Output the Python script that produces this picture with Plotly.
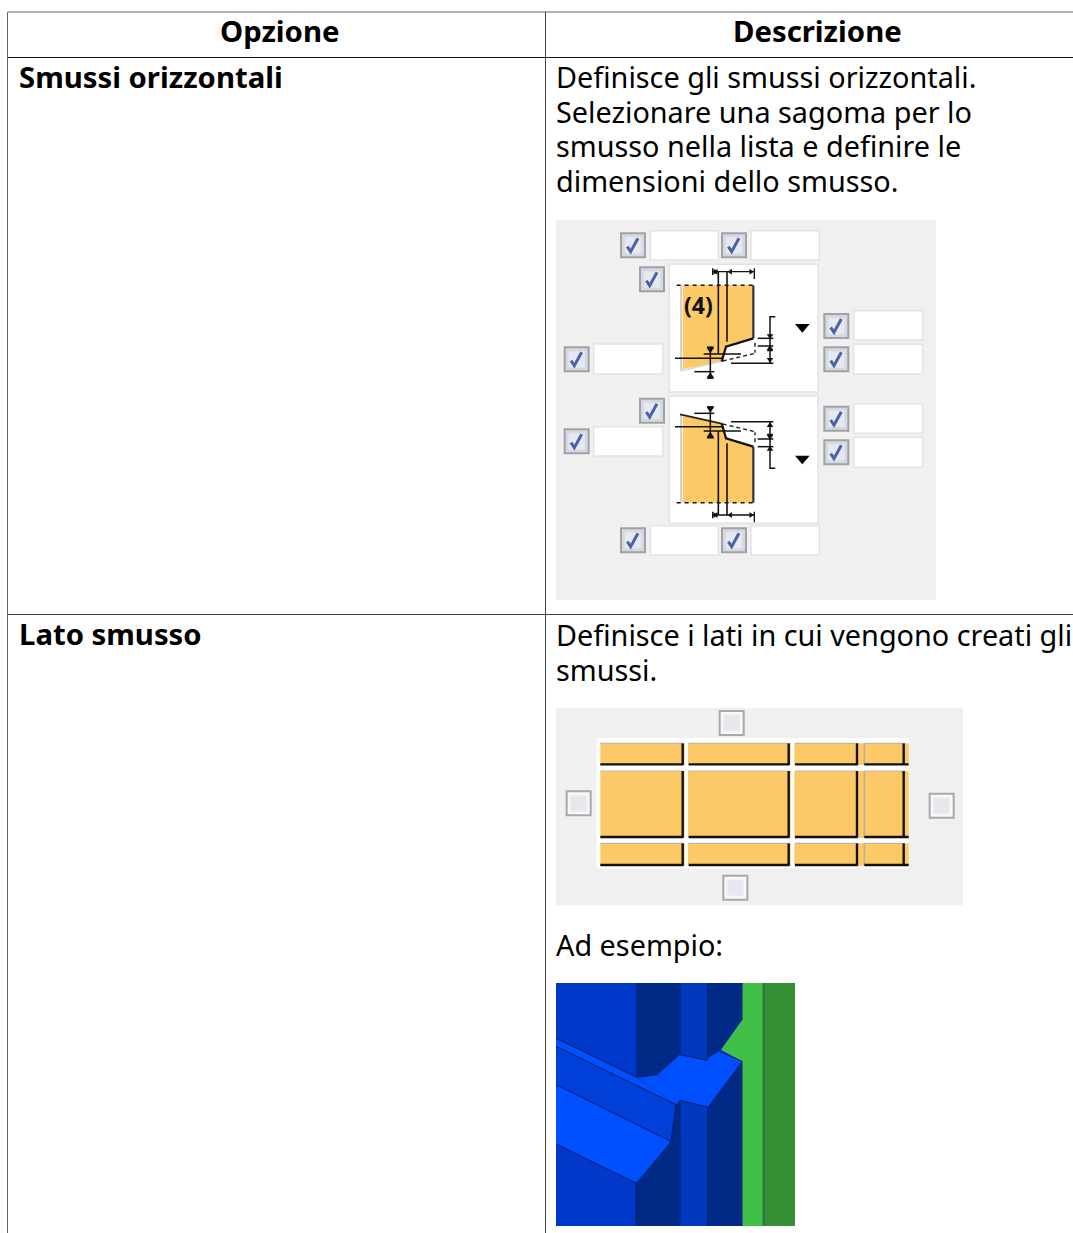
import plotly.graph_objects as go

# ---- text content ----
header_labels = ["Opzione", "Descrizione"]
option_labels = ["Smussi orizzontali", "Lato smusso"]
desc_lines_1 = ["Definisce gli smussi orizzontali.", "Selezionare una sagoma per lo",
                "smusso nella lista e definire le", "dimensioni dello smusso."]
desc_lines_2 = ["Definisce i lati in cui vengono creati gli", "smussi."]
example_label = "Ad esempio:"
badge_label = "(4)"

# ---- diagram geometry, in the crop units of each picture (3 units per pixel) ----
checked_boxes = [(231,76),(534,76),(288,178),(62,418),(841,318),(841,418),
                 (288,572),(62,664),(841,596),(841,697),(231,961),(534,961)]
input_fields = [(283,32,487,120),(585,32,790,120),(113,372,320,462),(893,272,1100,360),
                (893,373,1100,462),(113,620,320,708),(893,552,1100,640),(893,652,1100,742),
                (283,917,487,1005),(585,917,790,1005)]
white_panels = [(340,133,786,516),(340,528,786,910)]
unchecked_boxes = [(527,54),(68,295),(1157,302),(538,548)]
grid_rows = [(115,180),(198,398),(415,482)]
grid_cols = [(133,382),(398,700),(717,905),(925,1040)]

ORANGE = "#fdc966"
NAVY, MID, BRIGHT, BASE = "#002a85", "#0038c0", "#0050ff", "#0039c9"
model_polys = [
    (BASE, [(0,0),(717,0),(717,729),(0,729)]),
    (NAVY, [(243,0),(372,0),(372,215),(305,275),(243,283)]),
    (MID, [(372,0),(455,0),(455,232),(372,215)]),
    (NAVY, [(455,0),(558,0),(558,112),(495,200),(455,232)]),
    ("#40c048", [(558,0),(622,0),(622,729),(558,729)]),
    ("#40c048", [(558,112),(495,200),(558,235)]),
    ("#359035", [(625,0),(717,0),(717,729),(625,729)]),
    (BRIGHT, [(243,283),(305,275),(372,215),(445,232),(490,205),(558,235),(455,372),(372,352),(360,365)]),
    (BRIGHT, [(0,168),(243,285),(360,365),(0,190)]),
    ("#0040d8", [(0,190),(360,365),(345,475),(0,305)]),
    (BRIGHT, [(0,305),(345,475),(240,600),(0,483)]),
    (NAVY, [(240,600),(345,475),(360,365),(372,352),(372,729),(240,729)]),
    (MID, [(372,352),(455,372),(455,729),(372,729)]),
    (NAVY, [(455,372),(558,235),(558,729),(455,729)]),
]
model_lines = [
    [(0,165),(243,283)], [(0,190),(360,365)], [(0,305),(345,475)], [(0,483),(240,600)],
    [(243,0),(243,283)], [(372,0),(372,215)], [(455,0),(455,232)], [(240,600),(240,729)],
    [(372,352),(372,729)], [(455,372),(455,729)], [(558,0),(558,112)], [(558,235),(558,729)],
    [(360,365),(345,475)], [(243,283),(305,275)], [(372,215),(455,232)], [(372,352),(455,372)],
    [(490,205),(558,235)],
]

# ---- page mapping ----
shapes, annots = [], []
def add_rect(x0, y0, x1, y1, fill, line=None, w=1):
    shapes.append(dict(type="rect", x0=x0, y0=y0, x1=x1, y1=y1, fillcolor=fill, layer="above",
                       line=dict(color=line or fill, width=w if line else 0)))
def add_line(pts, color="#000", w=1, dash="solid"):
    d = "M" + " L".join(f"{x:.2f},{y:.2f}" for x, y in pts)
    shapes.append(dict(type="path", path=d, layer="above", line=dict(color=color, width=w, dash=dash)))
def add_poly(pts, fill):
    d = "M" + " L".join(f"{x:.2f},{y:.2f}" for x, y in pts) + " Z"
    shapes.append(dict(type="path", path=d, fillcolor=fill, layer="above", line=dict(width=0)))
def add_text(x, y, text, bold=False, anchor="left", size=28.8, color="#000"):
    annots.append(dict(x=x, y=y, text=f"<b>{text}</b>" if bold else text, showarrow=False,
                       xanchor=anchor, yanchor="middle", xref="x", yref="y", borderpad=0,
                       font=dict(family="Noto Sans", size=size, color=color)))

# ---- table rules ----
for pts, col in [([(7.5,12),(1073,12)],"#666"), ([(7.5,57.5),(1073,57.5)],"#111"),
                 ([(7.5,614.5),(1073,614.5)],"#444"), ([(7.5,12),(7.5,1233)],"#666"),
                 ([(545.5,12),(545.5,1233)],"#444")]:
    add_line(pts, col, 1)

FB, FS = 29.3, 28.8
add_text(279, 31, header_labels[0], True, "center", FB)
add_text(817, 31, header_labels[1], True, "center", FB)
add_text(18, 76.5, option_labels[0], True, size=FB)
add_text(18, 634, option_labels[1], True, size=FB)
for y, t in zip([76.5, 111.5, 145.5, 180.5], desc_lines_1):
    add_text(555, y, t, size=FS)
for y, t in zip([634, 669], desc_lines_2):
    add_text(555, y, t, size=FS)
add_text(555, 944, example_label, size=FS)

# ---- panel 1 ----
P1X = lambda x: 556 + x / 3
P1Y = lambda y: 220 + y / 3
def p1(pts): return [(P1X(x), P1Y(y)) for x, y in pts]
add_rect(556, 220, 936, 600, "#f0f0f0")
for x0, y0, x1, y1 in white_panels + input_fields:
    add_rect(P1X(x0), P1Y(y0), P1X(x1), P1Y(y1), "#ffffff", "#e3e3e6", 1.5)
for cx, cy in checked_boxes:
    add_rect(P1X(cx-36), P1Y(cy-36), P1X(cx+36), P1Y(cy+36), "#d5d8e2", "#a2a2a2", 2)
    add_rect(P1X(cx-24), P1Y(cy-24), P1X(cx+24), P1Y(cy+24), "#e6e9f1", "#dfe2ea", 1)
    add_line(p1([(cx-17,cy+4),(cx-7,cy+19),(cx+15,cy-21)]), "#4a63a8", 3)

def htri(x, y, right, s=9):
    h = -s if right else s
    return [(x, y), (x+h*1.4, y-s), (x+h*1.4, y+s)]

def chamfer_view(my, top_dim_y, outer_y, top_edge):
    """Draws one chamfer sketch; my maps the upper sketch's y to this sketch's y."""
    add_poly(p1([(380,outer_y),(590,outer_y),(590,my(355)),(510,my(380)),(497,my(425)),(380,my(447))]), ORANGE)
    add_line(p1([(375,outer_y),(375,my(452))]), "#c4c4c4", 1.5)
    if top_edge:
        add_line(p1([(372,my(452)),(497,my(424))]), "#222", 1.8)
    else:
        add_line(p1([(375,my(452)),(497,my(424))]), "#d8d8d8", 1.5)
    add_line(p1([(592,outer_y),(592,my(355))]), "#333333", 2.2)
    add_line(p1([(592,my(355)),(510,my(380)),(497,my(425))]), "#111", 2.2)
    add_line(p1([(362,outer_y),(600,outer_y)]), "#111", 1.5, "4px,4px")
    add_line(p1([(500,my(423)),(597,my(400))]), "#222", 1.4, "4px,3px")
    add_line(p1([(597,my(368)),(597,my(398))]), "#222", 1.4, "4px,3px")
    # top dimension
    add_line(p1([(487,top_dim_y),(487,my(402))]), "#111", 1.6)
    add_line(p1([(513,top_dim_y),(513,my(365))]), "#111", 1.6)
    add_line(p1([(470,top_dim_y),(595,top_dim_y)]), "#111", 1.3)
    add_line(p1([(470,top_dim_y-10),(470,top_dim_y+10)]), "#111", 1.3)
    add_line(p1([(595,top_dim_y-10),(595,top_dim_y+22)]), "#111", 1.3)
    for x, r in [(485,True),(515,False),(593,True),(472,False)]:
        add_poly(p1(htri(x, top_dim_y, r, 9)), "#111")
    # right dimension
    add_line(p1([(658,my(290)),(642,my(290)),(642,my(430))]), "#111", 1.5)
    for a, b, y in [(605,652,355),(605,652,378),(525,652,430)]:
        add_line(p1([(a,my(y)),(b,my(y))]), "#111", 1.5)
    for y, sign in [(357,-1),(376,1),(428,-1),(380,1)]:
        s = 10
        add_poly(p1([(642,my(y)),(642-s,my(y+sign*s*1.4)),(642+s,my(y+sign*s*1.4))]), "#111")
    # left dimension
    add_line(p1([(357,my(415)),(500,my(415))]), "#111", 1.5)
    add_line(p1([(443,my(402)),(555,my(402))]), "#111", 1.5)
    add_line(p1([(415,my(455)),(475,my(455))]), "#111", 1.5)
    add_line(p1([(463,my(382)),(463,my(475))]), "#111", 1.5)
    for y, sign in [(400,-1),(457,1)]:
        s = 11
        add_poly(p1([(463,my(y)),(463-s,my(y+sign*s*1.5)),(463+s,my(y+sign*s*1.5))]), "#111")
    add_line(p1([(453,my(474)),(473,my(474))]), "#111", 1.8)
    add_line(p1([(453,my(382)),(473,my(382))]), "#111", 1.8)

chamfer_view(lambda y: y, 155, 196, False)
chamfer_view(lambda y: 1035 - y, 885, 848, True)
add_text(P1X(427), P1Y(254), badge_label, True, "center", 23, "#111")
for ty in (312, 707):
    add_poly(p1([(717,ty),(761,ty),(739,ty+26)]), "#000")

# ---- panel 2 ----
P2 = lambda pts: [(556 + x / 3, 705 + y / 3) for x, y in pts]
add_rect(556, 708, 963, 905, "#f0f0f0")
add_rect(556+122/3, 705+100/3, 556+1058/3, 705+490/3, "#ffffff")
for (y0, y1) in grid_rows:
    add_rect(556+133/3, 705+y0/3, 556+1058/3, 705+y1/3, ORANGE)
    for (x0, x1) in grid_cols[:3]:
        add_line(P2([(x0,y0),(x1-4,y0)]), "#bdb7a8", 1.2)
        add_line(P2([(x1-2,y0),(x1-2,y1)]), "#111", 2.4)
        add_line(P2([(x0,y1-2),(x1,y1-2)]), "#111", 2.4)
    add_line(P2([(925,y0),(925,y1)]), "#b5b0a0", 1.5)
    add_line(P2([(925,y0),(1040,y0)]), "#bdb7a8", 1.2)
    add_line(P2([(925,y1-2),(1058,y1-2)]), "#111", 2.4)
    add_line(P2([(1043,y0),(1043,y1)]), "#111", 2.4)
    for gx0, gx1 in [(386,396),(704,715)]:
        add_rect(556+gx0/3, 705+(y0-2)/3, 556+gx1/3, 705+(y1+2)/3, "#ffffff")
for cx, cy in unchecked_boxes:
    cx_, cy_ = 556 + cx/3, 705 + cy/3
    add_rect(cx_-12, cy_-12, cx_+12, cy_+12, "#f8f8fa", "#a8a8a8", 2)
    add_rect(cx_-8, cy_-8, cx_+8, cy_+8, "#e6e8ee", "#eceef2", 1)

# ---- panel 3 ----
P3 = lambda pts: [(556 + x / 3, 983 + y / 3) for x, y in pts]
for col, pts in model_polys:
    add_poly(P3(pts), col)
for pts in model_lines:
    add_line(P3(pts), "#00226e", 1)
add_line(P3([(622,0),(622,729)]), "#2c7a30", 1.5)

fig = go.Figure()
fig.update_layout(width=1073, height=1233, margin=dict(l=0, r=0, t=0, b=0),
                  paper_bgcolor="#fff", plot_bgcolor="#fff", showlegend=False,
                  xaxis=dict(range=[0, 1073], visible=False, fixedrange=True),
                  yaxis=dict(range=[1233, 0], visible=False, fixedrange=True),
                  shapes=shapes, annotations=annots)
fig.write_html("out.html", config={"displayModeBar": False},
               post_script="document.body.style.margin='0';document.documentElement.style.overflow='hidden';")
